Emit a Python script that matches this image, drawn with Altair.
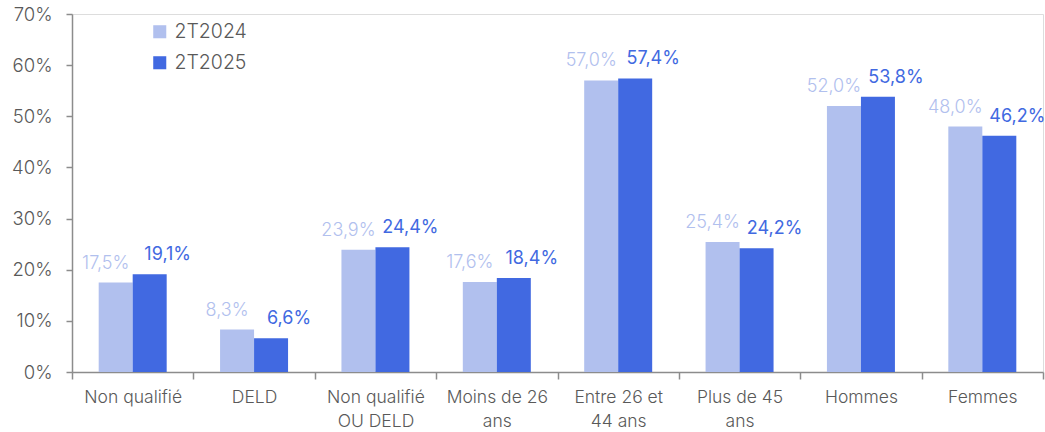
import altair as alt
import pandas as pd

categories = ["Non qualifié", "DELD", "Non qualifié\nOU DELD", "Moins de 26\nans",
              "Entre 26 et\n44 ans", "Plus de 45\nans", "Hommes", "Femmes"]
series = ["2T2024", "2T2025"]
values_2024 = [17.5, 8.3, 23.9, 17.6, 57.0, 25.4, 52.0, 48.0]
values_2025 = [19.1, 6.6, 24.4, 18.4, 57.4, 24.2, 53.8, 46.2]
y_ticks = [0, 10, 20, 30, 40, 50, 60, 70]

colors = ["#b1c0ee", "#4169e1"]
FONT = "Inter"
TXT = "#595959"

rows = []
for c, a, b in zip(categories, values_2024, values_2025):
    rows.append({"cat": c, "serie": series[0], "v": a})
    rows.append({"cat": c, "serie": series[1], "v": b})
df = pd.DataFrame(rows)

x_enc = alt.X("cat:N", sort=categories,
              scale=alt.Scale(paddingInner=0, paddingOuter=0),
              axis=alt.Axis(title=None, labelAngle=0, tickBand="extent",
                            labelExpr="split(datum.label, '\\n')",
                            labelFont=FONT, labelFontSize=17.5, labelColor=TXT,
                            labelFontWeight=300,
                            labelLineHeight=24, labelPadding=9,
                            domainColor="#8c8c8c", tickColor="#8c8c8c",
                            tickSize=7, domainWidth=1.5, tickWidth=1.5))
xoff = alt.XOffset("serie:N", sort=series,
                   scale=alt.Scale(paddingInner=0, paddingOuter=0.785))
y_enc = alt.Y("v:Q", scale=alt.Scale(domain=[0, 70], nice=False),
              axis=alt.Axis(title=None, values=y_ticks, grid=False,
                            labelExpr="datum.value + '%'",
                            labelFont=FONT, labelFontSize=18.5, labelColor=TXT,
                            labelFontWeight=300,
                            labelPadding=14,
                            domainColor="#8c8c8c", tickColor="#8c8c8c",
                            tickSize=6, domainWidth=1.5, tickWidth=1.5))
color_enc = alt.Color("serie:N", sort=series,
                      scale=alt.Scale(domain=series, range=colors),
                      legend=alt.Legend(title=None, orient="none", legendX=78, legendY=8,
                                        symbolType="square", symbolSize=170,
                                        symbolStrokeWidth=0,
                                        labelFont=FONT, labelFontSize=19.5, labelColor=TXT,
                                        labelFontWeight=300,
                                        rowPadding=10, labelOffset=5))

base = alt.Chart(df)
bars = base.mark_bar().encode(x=x_enc, xOffset=xoff, y=y_enc, color=color_enc)

label_expr = "replace(format(datum.v, '.1f'), '.', ',') + '%'"
texts = []
for s, col, dx, fw in zip(series, colors, [-10, 18], [300, 400]):
    t = base.transform_filter(alt.datum.serie == s).transform_calculate(
        lab=label_expr
    ).mark_text(font=FONT, fontSize=18, fontWeight=fw, color=col,
                baseline="alphabetic", dy=-14, dx=dx).encode(
        x=alt.X("cat:N", sort=categories), xOffset=alt.XOffset("serie:N", sort=series),
        y="v:Q", text="lab:N")
    texts.append(t)

chart = alt.layer(bars, *texts).properties(
    width=971, height=358,
    autosize=alt.AutoSizeParams(type="none"),
    padding={"left": 72, "top": 14, "right": 2, "bottom": 60},
).configure_view(stroke=None).configure(background="white")

chart.save("out.html", embed_options={"renderer": "svg", "actions": False})
